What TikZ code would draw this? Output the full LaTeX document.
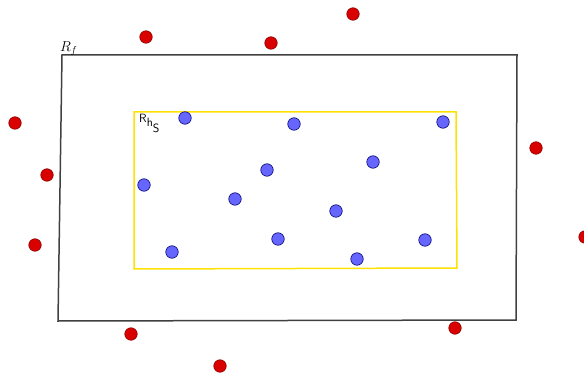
\documentclass[tikz,border=0pt]{standalone}
\usepackage{fontspec}
\begin{document}
\begin{tikzpicture}[x=1pt,y=-1pt,
  reddot/.style={circle,draw=red!55!black,fill=red!85!black,line width=0.6pt,inner sep=0pt,minimum size=12.5pt},
  bluedot/.style={circle,draw=blue!45!black,fill=blue!60!white,line width=0.6pt,inner sep=0pt,minimum size=12.5pt},
  frame/.style={draw=black!75,line width=1.5pt},
  inner/.style={draw=yellow!85!orange,line width=1.5pt}]
\useasboundingbox (0,0) rectangle (584,377);
\coordinate (o1) at (62,55);
\coordinate (o2) at (517,55);
\coordinate (o3) at (516,320);
\coordinate (o4) at (58,321);
\draw[frame] (o1) -- (o2) -- (o3) -- (o4) -- cycle;
\coordinate (i1) at (134,112);
\coordinate (i2) at (456,112);
\coordinate (i3) at (457,268);
\coordinate (i4) at (134,269);
\draw[inner] (i1) -- (i2) -- (i3) -- (i4) -- cycle;
\node[anchor=south west,inner sep=0pt,font=\Large] (lf) at (60,56) {$R_f$};
\node[anchor=north west,inner sep=0pt,font=\sffamily\large] (lh) at (139,114) {R$_{\textsf{h}_{\textsf{S}}}$};
% red dots
\node[reddot] (r1) at (353,14) {};
\node[reddot] (r2) at (146,37) {};
\node[reddot] (r3) at (271,43) {};
\node[reddot] (r4) at (15,123) {};
\node[reddot] (r5) at (536,148) {};
\node[reddot] (r6) at (47,175) {};
\node[reddot] (r7) at (35,245) {};
\node[reddot] (r8) at (585,237) {};
\node[reddot] (r9) at (131,334) {};
\node[reddot] (r10) at (455,328) {};
\node[reddot] (r11) at (220,366) {};
% blue dots
\node[bluedot] (b1) at (185,118) {};
\node[bluedot] (b2) at (294,124) {};
\node[bluedot] (b3) at (443,122) {};
\node[bluedot] (b4) at (373,162) {};
\node[bluedot] (b5) at (267,170) {};
\node[bluedot] (b6) at (144,185) {};
\node[bluedot] (b7) at (235,199) {};
\node[bluedot] (b8) at (336,211) {};
\node[bluedot] (b9) at (278,239) {};
\node[bluedot] (b10) at (425,240) {};
\node[bluedot] (b11) at (172,252) {};
\node[bluedot] (b12) at (357,259) {};
\end{tikzpicture}
\end{document}
